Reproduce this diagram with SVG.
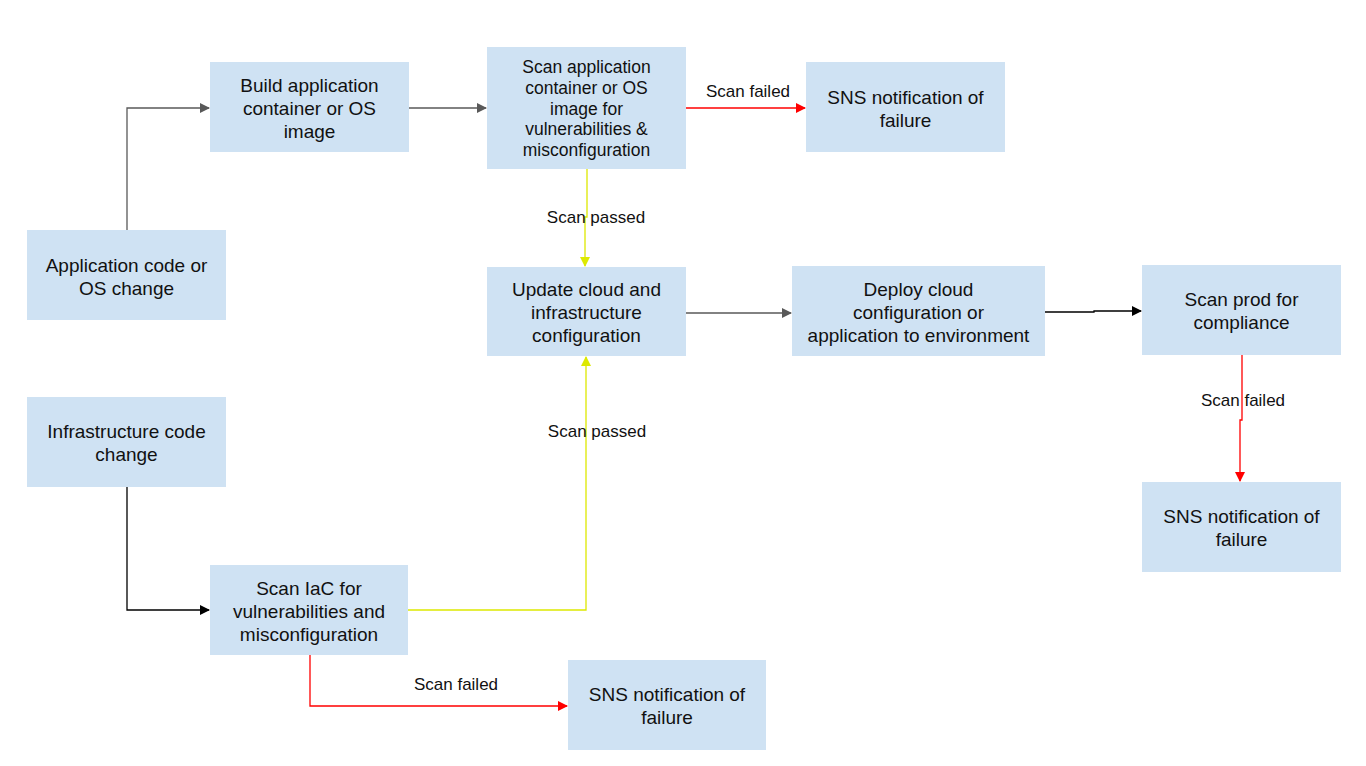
<svg xmlns="http://www.w3.org/2000/svg" width="1366" height="766" viewBox="0 0 1366 766">
<style>
.box{fill:#cfe2f3;}
.t{font-family:"Liberation Sans",Arial,sans-serif;font-size:19px;fill:#111;text-anchor:middle;dominant-baseline:central;}
.ts{font-size:17.5px;}
.lbl{font-family:"Liberation Sans",Arial,sans-serif;font-size:17px;fill:#111;text-anchor:middle;dominant-baseline:central;}
.c{fill:none;stroke-width:1.3;}
.gray{stroke:#595959;marker-end:url(#ag);}
.blk{stroke:#000;marker-end:url(#ab);}
.red{stroke:#ff0000;marker-end:url(#ar);}
.yel{stroke:#dde900;marker-end:url(#ay);}
</style>
<defs>
<marker id="ag" markerWidth="10" markerHeight="10" refX="9" refY="5" orient="auto" markerUnits="userSpaceOnUse"><path d="M0,0 L10,5 L0,10 z" fill="#595959"/></marker>
<marker id="ab" markerWidth="10" markerHeight="10" refX="9" refY="5" orient="auto" markerUnits="userSpaceOnUse"><path d="M0,0 L10,5 L0,10 z" fill="#000"/></marker>
<marker id="ar" markerWidth="10" markerHeight="10" refX="9" refY="5" orient="auto" markerUnits="userSpaceOnUse"><path d="M0,0 L10,5 L0,10 z" fill="#ff0000"/></marker>
<marker id="ay" markerWidth="10" markerHeight="10" refX="9" refY="5" orient="auto" markerUnits="userSpaceOnUse"><path d="M0,0 L10,5 L0,10 z" fill="#dde900"/></marker>
</defs>
<rect width="1366" height="766" fill="#fff"/>
<g id="connectors">
<path class="c gray" d="M127,230 V108 H209"/>
<path class="c gray" d="M409,108 H486"/>
<path class="c red" d="M686,108 H805"/>
<text class="lbl" x="748" y="91">Scan failed</text>
<path class="c yel" d="M587,169 V217 H585 V266"/>
<text class="lbl" x="596" y="217">Scan passed</text>
<path class="c gray" d="M686,313 H791"/>
<path class="c blk" d="M1045,312 H1094 V311 H1141"/>
<path class="c red" d="M1242,355 V420 H1240 V481"/>
<text class="lbl" x="1243" y="400">Scan failed</text>
<path class="c blk" d="M127,487 V610 H209"/>
<path class="c yel" d="M408,610 H586 V357"/>
<text class="lbl" x="597" y="431">Scan passed</text>
<path class="c red" d="M310,655 V706 H567"/>
<text class="lbl" x="456" y="684">Scan failed</text>
</g>
<g id="n-build"><rect class="box" x="210" y="62" width="199" height="90"/><text class="t" x="309.5" y="85">Build application</text><text class="t" x="309.5" y="108">container or OS</text><text class="t" x="309.5" y="131">image</text></g>
<g id="n-scanapp"><rect class="box" x="487" y="47" width="199" height="122"/><text class="t ts" x="586.5" y="67">Scan application</text><text class="t ts" x="586.5" y="88">container or OS</text><text class="t ts" x="586.5" y="109">image for</text><text class="t ts" x="586.5" y="129">vulnerabilities &amp;</text><text class="t ts" x="586.5" y="150">misconfiguration</text></g>
<g id="n-sns1"><rect class="box" x="806" y="62" width="199" height="90"/><text class="t" x="905.5" y="97">SNS notification of</text><text class="t" x="905.5" y="120">failure</text></g>
<g id="n-appcode"><rect class="box" x="27" y="230" width="199" height="90"/><text class="t" x="126.5" y="265">Application code or</text><text class="t" x="126.5" y="288">OS change</text></g>
<g id="n-update"><rect class="box" x="487" y="267" width="199" height="89"/><text class="t" x="586.5" y="289">Update cloud and</text><text class="t" x="586.5" y="312">infrastructure</text><text class="t" x="586.5" y="335">configuration</text></g>
<g id="n-deploy"><rect class="box" x="792" y="266" width="253" height="90"/><text class="t" x="918.5" y="289">Deploy cloud</text><text class="t" x="918.5" y="312">configuration or</text><text class="t" x="918.5" y="335">application to environment</text></g>
<g id="n-scanprod"><rect class="box" x="1142" y="265" width="199" height="90"/><text class="t" x="1241.5" y="299">Scan prod for</text><text class="t" x="1241.5" y="322">compliance</text></g>
<g id="n-infra"><rect class="box" x="27" y="397" width="199" height="90"/><text class="t" x="126.5" y="431">Infrastructure code</text><text class="t" x="126.5" y="454">change</text></g>
<g id="n-scaniac"><rect class="box" x="210" y="565" width="198" height="90"/><text class="t" x="309" y="588">Scan IaC for</text><text class="t" x="309" y="611">vulnerabilities and</text><text class="t" x="309" y="634">misconfiguration</text></g>
<g id="n-sns2"><rect class="box" x="568" y="660" width="198" height="90"/><text class="t" x="667" y="694">SNS notification of</text><text class="t" x="667" y="717">failure</text></g>
<g id="n-sns3"><rect class="box" x="1142" y="482" width="199" height="90"/><text class="t" x="1241.5" y="516">SNS notification of</text><text class="t" x="1241.5" y="539">failure</text></g>
</svg>
